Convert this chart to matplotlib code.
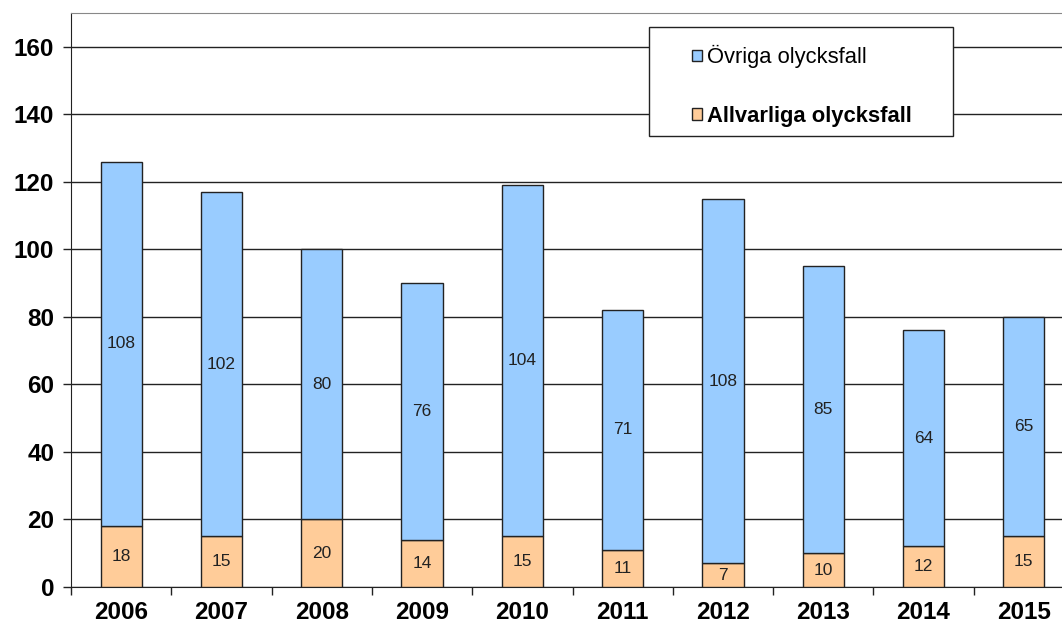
import matplotlib.pyplot as plt
from matplotlib.patches import Rectangle
import numpy as np

plt.rcParams['font.family'] = ['Liberation Sans', 'DejaVu Sans']

# data
years = ['2006', '2007', '2008', '2009', '2010', '2011', '2012', '2013', '2014', '2015']
allvarliga = [18, 15, 20, 14, 15, 11, 7, 10, 12, 15]
ovriga = [108, 102, 80, 76, 104, 71, 108, 85, 64, 65]

blue = '#99CCFF'
orange = '#FFCC99'

fig = plt.figure(figsize=(10.62, 6.27), dpi=100)
ax = fig.add_axes([71 / 1062, 40 / 627, 1003 / 1062, 574 / 627])

x = np.arange(len(years))
w = 0.41
b1 = ax.bar(x, allvarliga, w, color=orange, edgecolor='#222222', linewidth=1, zorder=3,
            label='Allvarliga olycksfall')
b2 = ax.bar(x, ovriga, w, bottom=allvarliga, color=blue, edgecolor='#222222', linewidth=1,
            zorder=3, label='Övriga olycksfall')

for xi, a, o in zip(x, allvarliga, ovriga):
    ax.text(xi, a / 2, str(a), ha='center', va='center', fontsize=12.5, color='#222222', zorder=4)
    ax.text(xi, a + o / 2, str(o), ha='center', va='center', fontsize=12.5, color='#222222', zorder=4)

ax.set_xlim(-0.5, len(years) - 0.5)
ax.set_ylim(0, 170)
ax.set_yticks(np.arange(0, 161, 20))
ax.yaxis.grid(True, color='#222222', linewidth=1, zorder=0)
ax.set_xticks(x)
ax.set_xticklabels(years)
ax.set_xticks(np.arange(-0.5, len(years), 1), minor=True)
ax.tick_params(axis='x', which='major', length=0, pad=10, labelsize=17.5)
ax.tick_params(axis='x', which='minor', length=6, width=1, color='#222222')
ax.tick_params(axis='y', length=6, width=1, color='#222222', labelsize=17.5, pad=6)
for lab in ax.get_xticklabels() + ax.get_yticklabels():
    lab.set_fontweight('bold')

ax.spines['top'].set_color('#888888')
ax.spines['right'].set_visible(False)
ax.spines['left'].set_color('#222222')
ax.spines['bottom'].set_color('#222222')

# legend box
box = Rectangle((0.576, 0.786), 0.303, 0.19, transform=ax.transAxes, facecolor='white',
                edgecolor='#222222', linewidth=1, zorder=5, clip_on=False)
ax.add_patch(box)

leg = ax.legend([b2, b1], ['Övriga olycksfall', 'Allvarliga olycksfall'],
                loc='upper left', bbox_to_anchor=(0.619, 0.944),
                fontsize=15.8, frameon=False, borderpad=0, labelspacing=1.7,
                handlelength=0.45, handleheight=0.45, handletextpad=0.25, borderaxespad=0)
leg.set_zorder(6)
leg.get_texts()[1].set_fontweight('bold')

fig.savefig('out.png', dpi=100)
